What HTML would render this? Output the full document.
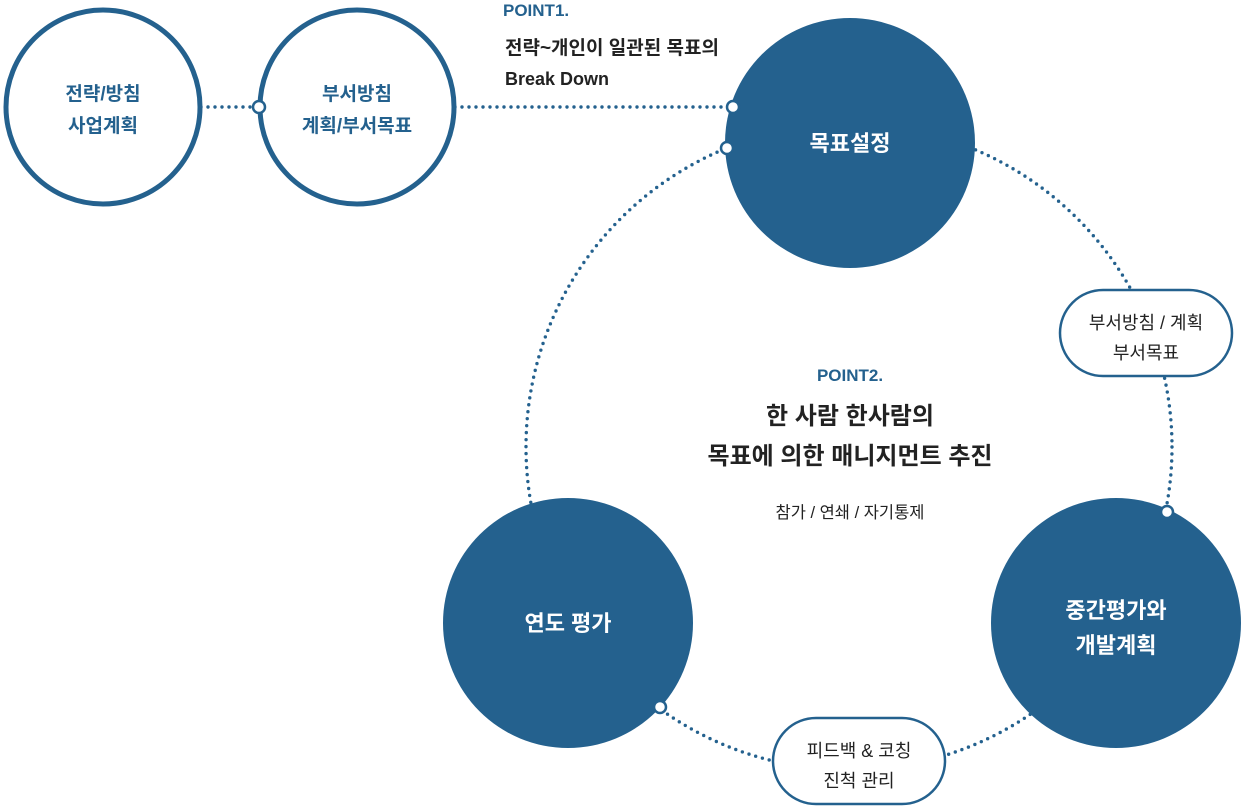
<!DOCTYPE html>
<html><head><meta charset="utf-8"><style>
html,body{margin:0;padding:0;background:#fff;}
svg{display:block;font-family:"Liberation Sans","Noto Sans CJK KR",sans-serif;}
</style></head><body>
<svg width="1241" height="807" viewBox="0 0 1241 807" xmlns="http://www.w3.org/2000/svg">
<g fill="none" stroke="#24618e" stroke-width="3.4" stroke-linecap="round" stroke-dasharray="0 7">
<circle cx="849" cy="447" r="323"/>
<line x1="201" y1="107" x2="259" y2="107"/>
<line x1="455" y1="107" x2="733" y2="107"/>
</g>
<circle cx="103" cy="107" r="97" fill="#fff" stroke="#24618e" stroke-width="5"/>
<circle cx="357" cy="107" r="97" fill="#fff" stroke="#24618e" stroke-width="5"/>
<circle cx="850" cy="143" r="125" fill="#24618e"/>
<circle cx="568" cy="623" r="125" fill="#24618e"/>
<circle cx="1116" cy="623" r="125" fill="#24618e"/>
<rect x="1060" y="290" width="172" height="86" rx="43" fill="#fff" stroke="#24618e" stroke-width="2.5"/>
<rect x="773" y="718" width="172" height="86" rx="43" fill="#fff" stroke="#24618e" stroke-width="2.5"/>
<g fill="#fff" stroke="#24618e" stroke-width="2.5">
<circle cx="259" cy="107" r="6"/>
<circle cx="733" cy="107" r="6"/>
<circle cx="727" cy="148" r="6"/>
<circle cx="1167" cy="512" r="6"/>
<circle cx="660" cy="707" r="6"/>
</g>
<g text-anchor="middle" font-weight="bold" fill="#24618e" font-size="19">
<text x="103" y="100">전략/방침</text>
<text x="103" y="132">사업계획</text>
<text x="357" y="100">부서방침</text>
<text x="357" y="132">계획/부서목표</text>
</g>
<g text-anchor="middle" font-weight="bold" fill="#fff" font-size="22">
<text x="850" y="151">목표설정</text>
<text x="568" y="631">연도 평가</text>
<text x="1116" y="618">중간평가와</text>
<text x="1116" y="653">개발계획</text>
</g>
<g text-anchor="middle" fill="#222" font-size="18">
<text x="1146" y="329">부서방침 / 계획</text>
<text x="1146" y="359">부서목표</text>
<text x="859" y="757">피드백 &amp; 코칭</text>
<text x="859" y="787">진척 관리</text>
</g>
<text x="503" y="16" font-size="17" font-weight="bold" fill="#24618e">POINT1.</text>
<text x="505" y="54" font-size="19" font-weight="bold" fill="#222">전략~개인이 일관된 목표의</text>
<text x="505" y="85" font-size="18" font-weight="bold" fill="#222">Break Down</text>
<g text-anchor="middle">
<text x="850" y="381" font-size="17" font-weight="bold" fill="#24618e">POINT2.</text>
<text x="850" y="424" font-size="24" font-weight="bold" fill="#222">한 사람 한사람의</text>
<text x="850" y="464" font-size="24" font-weight="bold" fill="#222">목표에 의한 매니지먼트 추진</text>
<text x="850" y="518" font-size="16.5" fill="#222">참가 / 연쇄 / 자기통제</text>
</g>
</svg>
</body></html>
